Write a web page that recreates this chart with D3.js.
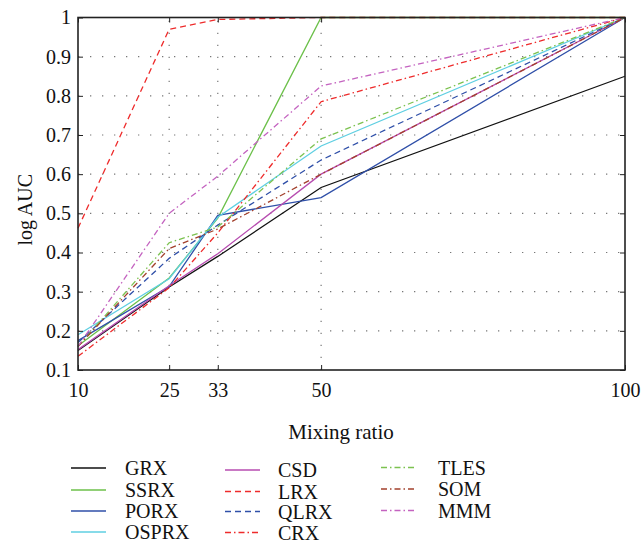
<!DOCTYPE html>
<html lang="en">
<head>
    <meta charset="UTF-8">
    <title>log AUC vs mixing ratio</title>
    <script src="https://cdn.jsdelivr.net/npm/d3@7"></script>
    <style>
        body { margin: 0; padding: 0; background: white; }
        svg { display: block; font-family: "Liberation Serif", "DejaVu Serif", serif; }
    </style>
</head>
<body>
<div id="chart"></div>
<script>
    const width = 641;
    const height = 546;

    // data
    const mixingRatios = [10, 25, 33, 50, 100];
    const xTicks = [10, 25, 33, 50, 100];
    const yTicks = [0.1, 0.2, 0.3, 0.4, 0.5, 0.6, 0.7, 0.8, 0.9, 1];

    const seriesNames = ["GRX", "SSRX", "PORX", "OSPRX", "CSD", "LRX", "QLRX", "CRX", "TLES", "SOM", "MMM"];
    const grx   = [0.150, 0.312, 0.390, 0.566, 0.850];
    const ssrx  = [0.162, 0.335, 0.488, 1.000, 1.000];
    const porx  = [0.175, 0.313, 0.495, 0.540, 1.000];
    const osprx = [0.190, 0.333, 0.490, 0.672, 1.000];
    const csd   = [0.152, 0.315, 0.397, 0.600, 1.000];
    const lrx   = [0.462, 0.970, 0.995, 1.000, 1.000];
    const qlrx  = [0.170, 0.385, 0.470, 0.636, 1.000];
    const crx   = [0.135, 0.310, 0.450, 0.785, 1.000];
    const tles  = [0.160, 0.425, 0.465, 0.690, 1.000];
    const som   = [0.160, 0.410, 0.460, 0.600, 1.000];
    const mmm   = [0.160, 0.500, 0.595, 0.825, 1.000];

    const styles = {
        GRX:   { color: "#111111", dash: null },
        SSRX:  { color: "#6cc04a", dash: null },
        PORX:  { color: "#2f4fa8", dash: null },
        OSPRX: { color: "#5fcfe2", dash: null },
        CSD:   { color: "#b74db0", dash: null },
        LRX:   { color: "#ee2b2b", dash: "6,4" },
        QLRX:  { color: "#2f4fa8", dash: "6,4" },
        CRX:   { color: "#ee2b2b", dash: "6,3,1.5,3" },
        TLES:  { color: "#7cc250", dash: "6,3,1.5,3" },
        SOM:   { color: "#a3402c", dash: "6,3,1.5,3" },
        MMM:   { color: "#c463c0", dash: "6,3,1.5,3" }
    };

    const values = { GRX: grx, SSRX: ssrx, PORX: porx, OSPRX: osprx, CSD: csd, LRX: lrx, QLRX: qlrx, CRX: crx, TLES: tles, SOM: som, MMM: mmm };

    const plot = { left: 78, right: 625, top: 17.5, bottom: 370 };
    const fontSize = 20;

    const x = d3.scaleLinear().domain([10, 100]).range([plot.left, plot.right]);
    const y = d3.scaleLinear().domain([0.1, 1]).range([plot.bottom, plot.top]);

    const svg = d3.select("#chart").append("svg")
        .attr("width", width)
        .attr("height", height);

    // dotted grid
    svg.append("g").selectAll("line")
        .data(yTicks.filter(t => t > 0.1 && t < 1))
        .enter().append("line")
        .attr("x1", plot.left).attr("x2", plot.right)
        .attr("y1", d => y(d)).attr("y2", d => y(d))
        .attr("stroke", "#777").attr("stroke-width", 1.2)
        .attr("stroke-dasharray", "1.3,10.7");

    svg.append("g").selectAll("line")
        .data(xTicks.filter(t => t > 10 && t < 100))
        .enter().append("line")
        .attr("x1", d => x(d)).attr("x2", d => x(d))
        .attr("y1", plot.bottom).attr("y2", plot.top)
        .attr("stroke", "#777").attr("stroke-width", 1.2)
        .attr("stroke-dasharray", "1.3,10.7");

    // series
    const line = d3.line()
        .x((d, i) => x(mixingRatios[i]))
        .y(d => y(d));

    svg.append("g").selectAll("path")
        .data(seriesNames)
        .enter().append("path")
        .attr("d", name => line(values[name]))
        .attr("fill", "none")
        .attr("stroke", name => styles[name].color)
        .attr("stroke-width", 1.3)
        .attr("stroke-dasharray", name => styles[name].dash);

    // axes with inward ticks
    svg.append("g")
        .attr("transform", `translate(${plot.left},0)`)
        .call(d3.axisLeft(y).tickValues(yTicks).tickSizeInner(-5).tickSizeOuter(0).tickPadding(7)
            .tickFormat(d => d === 1 ? "1" : d3.format(".1f")(d)))
        .call(g => g.select(".domain").remove())
        .call(g => g.selectAll("text").attr("font-size", fontSize).attr("font-family", "Liberation Serif").attr("fill", "#111"))
        .call(g => g.selectAll("line").attr("stroke", "#222"));

    svg.append("g")
        .attr("transform", `translate(${plot.right},0)`)
        .call(d3.axisRight(y).tickValues(yTicks).tickSizeInner(-5).tickSizeOuter(0).tickFormat(""))
        .call(g => g.select(".domain").remove())
        .call(g => g.selectAll("line").attr("stroke", "#222"));

    svg.append("g")
        .attr("transform", `translate(0,${plot.bottom})`)
        .call(d3.axisBottom(x).tickValues(xTicks).tickSizeInner(-5).tickSizeOuter(0).tickPadding(13)
            .tickFormat(d3.format("d")))
        .call(g => g.select(".domain").remove())
        .call(g => g.selectAll("text").attr("font-size", fontSize).attr("font-family", "Liberation Serif").attr("fill", "#111"))
        .call(g => g.selectAll("line").attr("stroke", "#222"));

    svg.append("g")
        .attr("transform", `translate(0,${plot.top})`)
        .call(d3.axisTop(x).tickValues(xTicks).tickSizeInner(-5).tickSizeOuter(0).tickFormat(""))
        .call(g => g.select(".domain").remove())
        .call(g => g.selectAll("line").attr("stroke", "#222"));

    // frame
    svg.append("rect")
        .attr("x", plot.left).attr("y", plot.top)
        .attr("width", plot.right - plot.left).attr("height", plot.bottom - plot.top)
        .attr("fill", "none").attr("stroke", "#222").attr("stroke-width", 1.6);

    // axis titles
    svg.append("text")
        .attr("transform", `translate(32,${(plot.top + plot.bottom) / 2 + 16}) rotate(-90)`)
        .attr("text-anchor", "middle")
        .attr("font-size", fontSize)
        .attr("fill", "#111")
        .text("log AUC");

    svg.append("text")
        .attr("x", 341).attr("y", 439)
        .attr("text-anchor", "middle")
        .attr("font-size", 21)
        .attr("fill", "#111")
        .text("Mixing ratio");

    // legend, three columns
    const legendCols = [
        { lineX: 71, textX: 125, rowY: [468, 490, 511, 532], names: ["GRX", "SSRX", "PORX", "OSPRX"] },
        { lineX: 225, textX: 278, rowY: [470, 491.5, 511.5, 532.5], names: ["CSD", "LRX", "QLRX", "CRX"] },
        { lineX: 381, textX: 438, rowY: [467.5, 489, 510.5], names: ["TLES", "SOM", "MMM"] }
    ];

    const legend = svg.append("g");
    legendCols.forEach(col => {
        col.names.forEach((name, i) => {
            const ly = col.rowY[i];
            legend.append("line")
                .attr("x1", col.lineX).attr("x2", col.lineX + 35)
                .attr("y1", ly).attr("y2", ly)
                .attr("stroke", styles[name].color)
                .attr("stroke-width", 1.3)
                .attr("stroke-dasharray", styles[name].dash);
            legend.append("text")
                .attr("x", col.textX).attr("y", ly)
                .attr("dy", "0.35em")
                .attr("font-size", fontSize)
                .attr("fill", "#111")
                .text(name);
        });
    });
</script>
</body>
</html>
